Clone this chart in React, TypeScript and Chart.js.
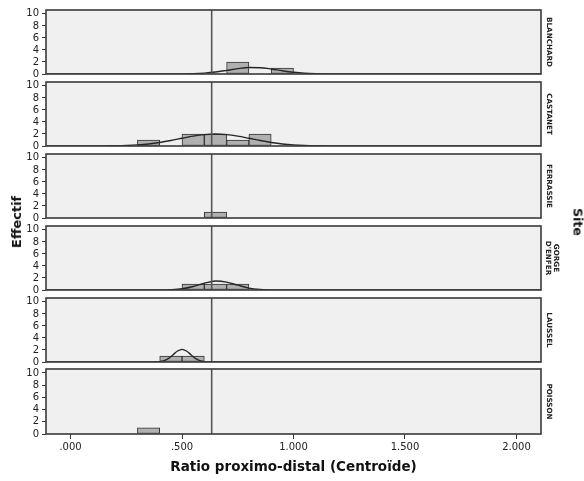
import React, { useEffect, useRef } from 'react';
import { Chart, registerables } from 'chart.js';

Chart.register(...registerables);

// ---------- data ----------
const siteLabelLines: string[][] = [
  ['BLANCHARD'],
  ['CASTANET'],
  ['FERRASSIE'],
  ['GORGE', "D'ENFER"],
  ['LAUSSEL'],
  ['POISSON'],
];

const binLows = [0.3, 0.4, 0.5, 0.6, 0.7, 0.8, 0.9];
const binWidth = 0.1;

const countsBlanchard = [0, 0, 0, 0, 2, 0, 1];
const countsCastanet = [1, 0, 2, 2, 1, 2, 0];
const countsFerrassie = [0, 0, 0, 1, 0, 0, 0];
const countsGorge = [0, 0, 1, 1, 1, 0, 0];
const countsLaussel = [0, 1, 1, 0, 0, 0, 0];
const countsPoisson = [1, 0, 0, 0, 0, 0, 0];

// fitted normal curves
const curveXBlanchard = [-0.11, 0.45, 0.5, 0.55, 0.6, 0.65, 0.7, 0.75, 0.8, 0.85, 0.9, 0.95, 1.0, 1.05, 1.1, 1.15, 1.2, 2.11];
const curveYBlanchard = [0, 0.0, 0.02, 0.05, 0.15, 0.33, 0.6, 0.89, 1.07, 1.05, 0.84, 0.54, 0.29, 0.12, 0.04, 0.01, 0, 0];

const curveXCastanet = [-0.11, 0.15, 0.2, 0.25, 0.3, 0.35, 0.4, 0.45, 0.5, 0.55, 0.6, 0.65, 0.7, 0.75, 0.8, 0.85, 0.9, 0.95, 1.0, 1.05, 1.1, 1.15, 1.2, 2.11];
const curveYCastanet = [0, 0.01, 0.04, 0.09, 0.18, 0.34, 0.59, 0.91, 1.28, 1.64, 1.9, 2.0, 1.9, 1.64, 1.28, 0.91, 0.59, 0.34, 0.18, 0.09, 0.04, 0.015, 0.005, 0];

const curveXFerrassie: number[] = [];
const curveYFerrassie: number[] = [];

const curveXGorge = [-0.11, 0.4, 0.45, 0.5, 0.55, 0.6, 0.65, 0.7, 0.75, 0.8, 0.85, 0.9, 0.95, 2.11];
const curveYGorge = [0, 0.0, 0.05, 0.2, 0.58, 1.13, 1.49, 1.32, 0.8, 0.32, 0.09, 0.02, 0, 0];

const curveXLaussel = [-0.11, 0.36, 0.38, 0.4, 0.42, 0.44, 0.46, 0.48, 0.5, 0.52, 0.54, 0.56, 0.58, 0.6, 0.62, 0.64, 2.11];
const curveYLaussel = [0, 0, 0.015, 0.07, 0.23, 0.6, 1.21, 1.83, 2.1, 1.83, 1.21, 0.6, 0.23, 0.07, 0.015, 0, 0];

const curveXPoisson: number[] = [];
const curveYPoisson: number[] = [];

const refLineX = 0.633;

const xMin = -0.11;
const xMax = 2.11;
const yMax = 10.65;
const xTickValues = [0, 0.5, 1, 1.5, 2];
const xTickLabels = ['.000', '.500', '1.000', '1.500', '2.000'];
const yTickValues = [0, 2, 4, 6, 8, 10];

const xTitle = 'Ratio proximo-distal (Centroïde)';
const yTitle = 'Effectif';
const panelTitle = 'Site';

const panels = [
  { counts: countsBlanchard, cx: curveXBlanchard, cy: curveYBlanchard },
  { counts: countsCastanet, cx: curveXCastanet, cy: curveYCastanet },
  { counts: countsFerrassie, cx: curveXFerrassie, cy: curveYFerrassie },
  { counts: countsGorge, cx: curveXGorge, cy: curveYGorge },
  { counts: countsLaussel, cx: curveXLaussel, cy: curveYLaussel },
  { counts: countsPoisson, cx: curveXPoisson, cy: curveYPoisson },
];

// ---------- layout ----------
const W = 584;
const PLOT_LEFT = 46;
const PLOT_RIGHT = 541;
const PANEL_H = 66;
const PAD = 8;
const X_AXIS_H = 44;
const FONT = "'DejaVu Sans', 'Noto Sans', sans-serif";

const framePlugin = {
  id: 'frame',
  beforeDatasetsDraw(chart: any) {
    const { ctx, chartArea: a } = chart;
    ctx.save();
    ctx.fillStyle = '#f0f0f0';
    ctx.fillRect(a.left, a.top, a.right - a.left, a.bottom - a.top);
    ctx.restore();
  },
  afterDatasetsDraw(chart: any) {
    const { ctx, chartArea: a } = chart;
    ctx.save();
    ctx.strokeStyle = '#3a3a3a';
    ctx.lineWidth = 1.6;
    ctx.strokeRect(a.left, a.top, a.right - a.left, a.bottom - a.top);
    ctx.restore();
  },
};

function Panel({ index, top }: { index: number; top: number }) {
  const ref = useRef<HTMLCanvasElement | null>(null);
  const isLast = index === panels.length - 1;
  const h = PAD + PANEL_H + (isLast ? X_AXIS_H : PAD);
  const lines = siteLabelLines[index];

  useEffect(() => {
    const p = panels[index];
    const barData = binLows.map((lo, k) => ({ x: lo + binWidth / 2, y: p.counts[k] > 0 ? p.counts[k] : null }));
    const curveData = p.cx.map((x, k) => ({ x, y: p.cy[k] }));
    const refData = [{ x: refLineX, y: 0 }, { x: refLineX, y: yMax }];

    const chart = new Chart(ref.current as HTMLCanvasElement, {
      type: 'bar',
      data: {
        datasets: [
          {
            type: 'line',
            data: refData,
            borderColor: '#555555',
            borderWidth: 1.6,
            pointRadius: 0,
            yAxisID: 'y',
            xAxisID: 'x',
          } as any,
          {
            type: 'line',
            data: curveData,
            borderColor: '#262626',
            borderWidth: 1.4,
            pointRadius: 0,
            cubicInterpolationMode: 'monotone',
            yAxisID: 'y',
            xAxisID: 'x',
          } as any,
          {
            type: 'bar',
            data: barData,
            backgroundColor: '#b0b0b0',
            borderColor: '#333333',
            borderWidth: 1,
            borderSkipped: false,
            barPercentage: 1,
            categoryPercentage: 1,
            yAxisID: 'y',
            xAxisID: 'x',
          } as any,
        ],
      },
      options: {
        responsive: false,
        maintainAspectRatio: false,
        animation: false,
        events: [],
        layout: { padding: { top: PAD, bottom: isLast ? 0 : PAD, left: 0, right: 0 } },
        plugins: { legend: { display: false }, tooltip: { enabled: false } },
        scales: {
          x: {
            type: 'linear',
            min: xMin,
            max: xMax,
            offset: false,
            display: isLast,
            grid: { display: true, offset: false, drawOnChartArea: false, drawTicks: true, tickLength: 5, color: '#333' },
            border: { display: false },
            ticks: {
              autoSkip: false,
              maxRotation: 0,
              padding: 2,
              color: '#222',
              font: { family: FONT, size: 10 },
              callback: (v: any) => {
                const i = xTickValues.indexOf(Number(v));
                return i >= 0 ? xTickLabels[i] : '';
              },
            },
            afterBuildTicks: (s: any) => {
              s.ticks = xTickValues.map((v) => ({ value: v }));
            },
            afterFit: (s: any) => {
              s.height = isLast ? X_AXIS_H : 0;
            },
            title: {
              display: isLast,
              text: xTitle,
              color: '#111',
              font: { family: FONT, size: 13.5, weight: 'bold' },
              padding: { top: 0, bottom: 2 },
            },
          },
          y: {
            type: 'linear',
            position: 'left',
            min: 0,
            max: yMax,
            grid: { display: true, drawOnChartArea: false, drawTicks: true, tickLength: 4, color: '#333' },
            border: { display: false },
            ticks: { autoSkip: false, padding: 3, color: '#222', font: { family: FONT, size: 10 } },
            afterBuildTicks: (s: any) => {
              s.ticks = yTickValues.map((v) => ({ value: v }));
            },
            afterFit: (s: any) => {
              s.width = PLOT_LEFT;
            },
          },
          y2: {
            type: 'linear',
            position: 'right',
            display: true,
            grid: { display: false },
            border: { display: false },
            ticks: { display: false },
            afterFit: (s: any) => {
              s.width = W - PLOT_RIGHT;
            },
            title: {
              display: true,
              text: lines.length > 1 ? lines : lines[0],
              color: '#222',
              font: { family: FONT, size: 7.2, weight: 'bold', lineHeight: 1.1 },
              padding: { top: lines.length > 1 ? 24 : 31.5, bottom: 0 },
            },
          },
        },
      } as any,
      plugins: [framePlugin],
    });
    return () => chart.destroy();
  }, [index]);

  return (
    <canvas
      ref={ref}
      width={W}
      height={h}
      style={{ position: 'absolute', left: 0, top: top - PAD, width: W, height: h, display: 'block' }}
    />
  );
}

export default function App() {
  const tops = panels.map((_, i) => Math.round(9.3 + i * 71.8));
  return (
    <div
      style={{
        position: 'absolute',
        left: 0,
        top: 0,
        width: W,
        height: 481,
        background: '#ffffff',
        overflow: 'hidden',
        fontFamily: FONT,
      }}
    >
      {panels.map((_, i) => (
        <Panel key={i} index={i} top={tops[i]} />
      ))}
      <div
        style={{
          position: 'absolute',
          left: 17,
          top: 221.5,
          transform: 'translate(-50%, -50%) rotate(-90deg)',
          whiteSpace: 'nowrap',
          fontWeight: 'bold',
          fontSize: 13,
          color: '#111',
          lineHeight: '16px',
        }}
      >
        {yTitle}
      </div>
      <div
        style={{
          position: 'absolute',
          left: 578,
          top: 222,
          transform: 'translate(-50%, -50%) rotate(90deg)',
          whiteSpace: 'nowrap',
          fontWeight: 'bold',
          fontSize: 12.5,
          color: '#111',
          lineHeight: '15px',
        }}
      >
        {panelTitle}
      </div>
    </div>
  );
}
